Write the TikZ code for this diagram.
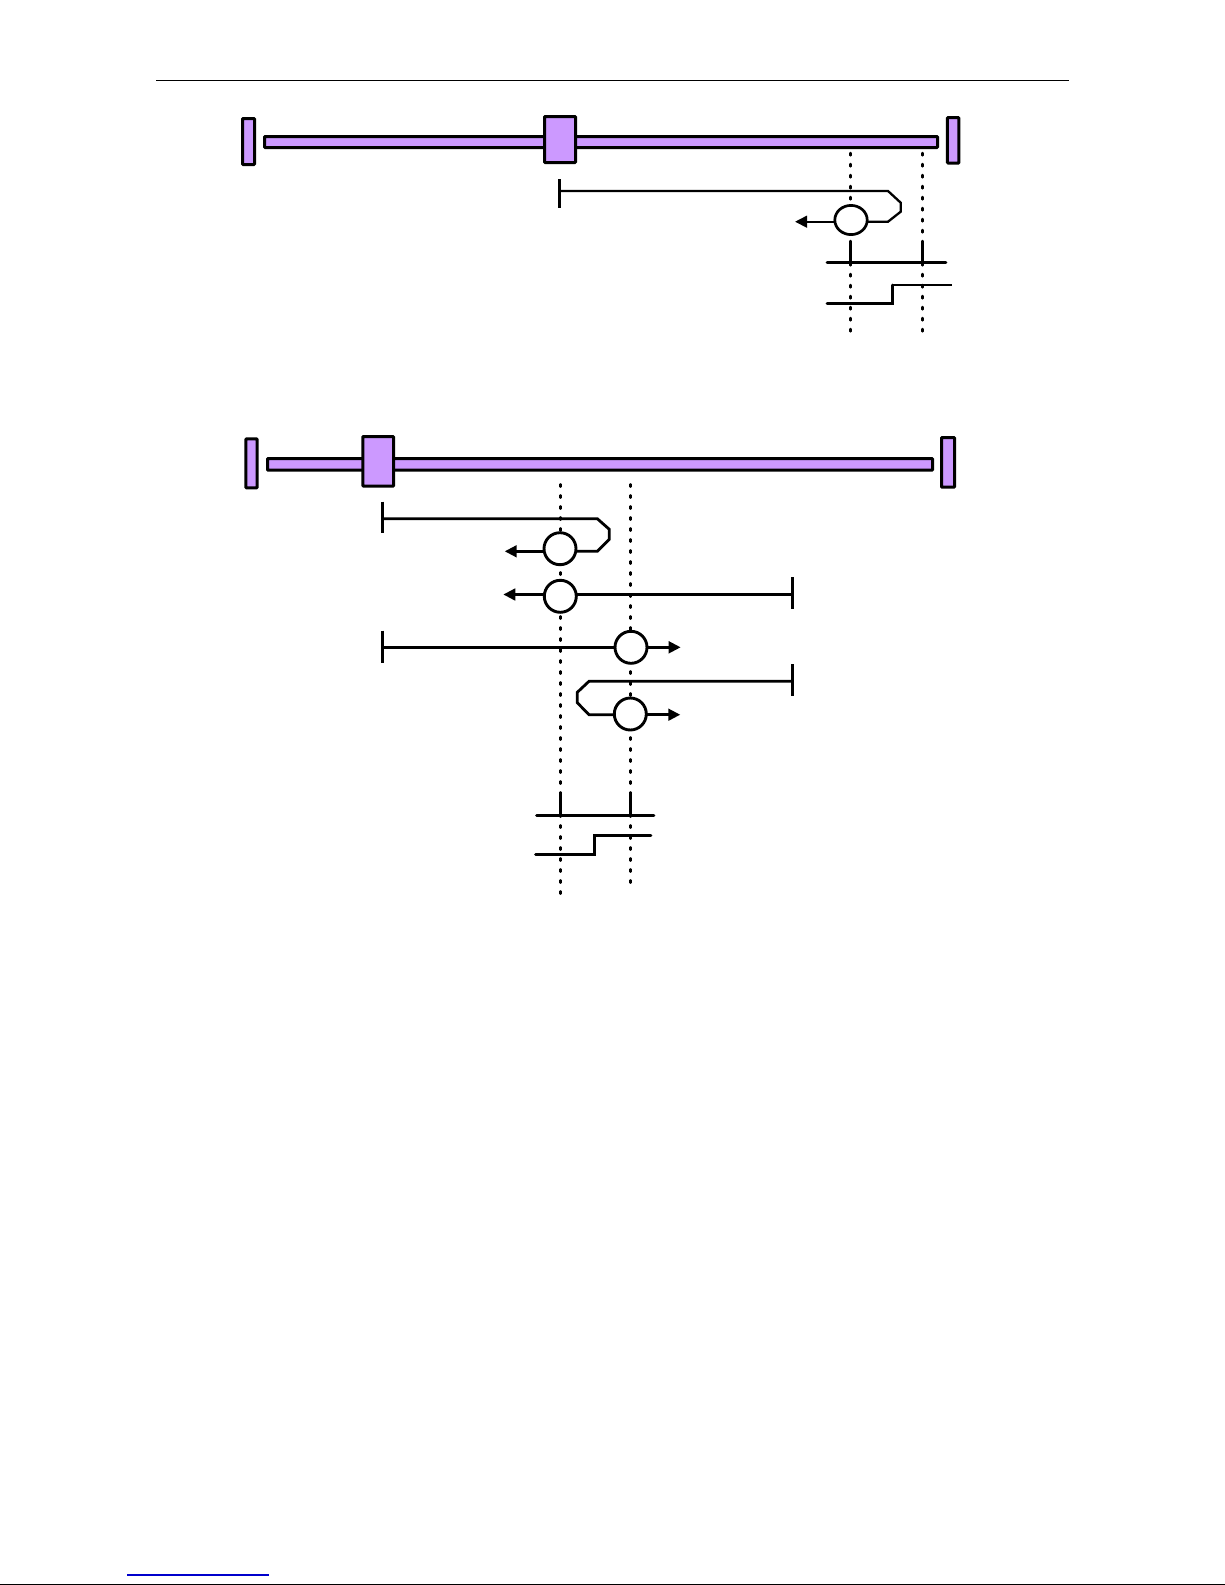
\documentclass[tikz,border=0pt]{standalone}
\usetikzlibrary{arrows.meta,shapes.geometric}
\definecolor{railfill}{HTML}{CC99FF}
\definecolor{linkblue}{HTML}{0000CC}
\tikzset{
  x=0.5pt,y=-0.5pt,
  sz/.style n args={2}{minimum width=#1*0.5pt,minimum height=#2*0.5pt},
  partbox/.style={draw=black,fill=railfill,line width=1.5pt,rounded corners=0.4pt,inner sep=0pt,outer sep=0pt},
  lamp/.style={draw=black,fill=white,circle,line width=1.45pt,minimum size=16pt,inner sep=0pt,outer sep=0pt},
  lampflat/.style={draw=black,fill=white,ellipse,line width=1.35pt,minimum width=16.2pt,minimum height=14.6pt,inner sep=0pt,outer sep=0pt},
  dots/.style={line width=1.25pt,line cap=round,dash pattern=on 1.2pt off 4.3pt},
  tick/.style={line width=1.3pt},
  run/.style={line width=1.15pt,line join=miter},
  runb/.style={line width=1.4pt,line join=miter},
  thinrun/.style={line width=0.8pt},
  go/.style={line width=1.2pt,-{Triangle[length=6pt,width=5.8pt]}},
  gob/.style={line width=1.4pt,-{Triangle[length=6pt,width=5.8pt]}},
}
\begin{document}
\begin{tikzpicture}
\useasboundingbox (0,0) rectangle (1225,1585);
% page rules
\coordinate (ruleA) at (156,80.3); \coordinate (ruleB) at (1069,80.3);
\draw[line width=0.65pt] (ruleA) -- (ruleB);
\coordinate (footA) at (0,1584.3); \coordinate (footB) at (1225,1584.3);
\draw[line width=0.65pt] (footA) -- (footB);
\coordinate (linkA) at (127,1575); \coordinate (linkB) at (269,1575);
\draw[line width=0.65pt,linkblue] (linkA) -- (linkB);

% ===== upper panel =====
\coordinate (uD1a) at (850.3,153); \coordinate (uD1b) at (850.3,334);
\coordinate (uD2a) at (922.3,153); \coordinate (uD2b) at (922.3,334);
\draw[dots] (uD1a) -- (uD1b);
\draw[dots] (uD2a) -- (uD2b);
\node[partbox,sz={12}{46}] (uStopL) at (248.5,141.5) {};
\node[partbox,sz={673}{11}] (uRail) at (601,142) {};
\node[partbox,sz={31}{46}] (uCar) at (560,139.5) {};
\node[partbox,sz={11.5}{45.5}] (uStopR) at (953.2,140.3) {};
\coordinate (uTa) at (559.3,179); \coordinate (uTb) at (559.3,208);
\draw[tick] (uTa) -- (uTb);
\node[lampflat] (uLamp) at (851,220) {};
\coordinate (uS) at (559.3,191);
\coordinate (uL1) at (888,191); \coordinate (uL2) at (900.7,202.7);
\coordinate (uL3) at (900.7,211.7); \coordinate (uL4) at (888,221.7);
\draw[run] (uS) -- (uL1) -- (uL2) -- (uL3) -- (uL4) -- (uLamp.east |- uL4);
\coordinate (uTip) at (795,221.7);
\draw[go] (uLamp.west |- uL4) -- (uTip);
% switch signals
\coordinate (uK1) at (850.3,241.7); \coordinate (uK1b) at (850.3,262.3);
\coordinate (uK2) at (922.3,241.7); \coordinate (uK2b) at (922.3,262.3);
\draw[tick] (uK1) -- (uK1b);
\draw[tick] (uK2) -- (uK2b);
\coordinate (uH1) at (827,262.3); \coordinate (uH2) at (946,262.3);
\draw[tick,line cap=round] (uH1) -- (uH2);
\coordinate (uP1) at (827,303.3); \coordinate (uP2) at (892.7,303.3);
\coordinate (uP3) at (892.7,285); \coordinate (uP4) at (952.3,285);
\draw[tick,line cap=round] (uP1) -- (uP2) -- (uP3);
\draw[thinrun] (uP3) -- (uP4);

% ===== lower panel =====
\coordinate (lD1a) at (560.3,484.3); \coordinate (lD1b) at (560.3,895);
\coordinate (lD2a) at (630.3,484.3); \coordinate (lD2b) at (630.3,883.3);
\draw[dots] (lD1a) -- (lD1b);
\draw[dots] (lD2a) -- (lD2b);
\node[partbox,sz={11.4}{49}] (lStopL) at (251.5,463.3) {};
\node[partbox,sz={665}{11.7}] (lRail) at (600,464.35) {};
\node[partbox,sz={30.7}{49.7}] (lCar) at (378.15,461.35) {};
\node[partbox,sz={13}{49.7}] (lStopR) at (948,462.35) {};
% run 1
\node[lamp] (lLampA) at (560,548.7) {};
\coordinate (aTa) at (382.3,501.7); \coordinate (aTb) at (382.3,533.3);
\draw[tick] (aTa) -- (aTb);
\coordinate (aS) at (382.3,518.7);
\coordinate (aL1) at (597.3,518.7); \coordinate (aL2) at (609.3,529.3);
\coordinate (aL3) at (609.3,539.3); \coordinate (aL4) at (597.3,551.3);
\draw[runb] (aS) -- (aL1) -- (aL2) -- (aL3) -- (aL4) -- (lLampA.east |- aL4);
\coordinate (aTip) at (504.7,551.3);
\draw[gob] (lLampA.west |- aL4) -- (aTip);
% run 2
\node[lamp] (lLampB) at (560.3,596.3) {};
\coordinate (bTa) at (792.3,577.3); \coordinate (bTb) at (792.3,609.3);
\draw[tick] (bTa) -- (bTb);
\coordinate (bS) at (792.3,594.5); \coordinate (bTip) at (503.3,594.5);
\draw[runb] (bS) -- (lLampB.east |- bS);
\draw[gob] (lLampB.west |- bS) -- (bTip);
% run 3
\node[lamp] (lLampC) at (631,647.3) {};
\coordinate (cTa) at (382.3,630.7); \coordinate (cTb) at (382.3,662.7);
\draw[tick] (cTa) -- (cTb);
\coordinate (cS) at (382.3,647.3); \coordinate (cTip) at (680.7,647.3);
\draw[runb] (cS) -- (lLampC.west);
\draw[gob] (lLampC.east) -- (cTip);
% run 4
\node[lamp] (lLampD) at (630.3,714) {};
\coordinate (dTa) at (792.7,664.3); \coordinate (dTb) at (792.7,696);
\draw[tick] (dTa) -- (dTb);
\coordinate (dS) at (792.7,681.3);
\coordinate (dL1) at (589,681.3); \coordinate (dL2) at (577.3,692.3);
\coordinate (dL3) at (577.3,702.7); \coordinate (dL4) at (589,714.7);
\draw[runb] (dS) -- (dL1) -- (dL2) -- (dL3) -- (dL4) -- (lLampD.west |- dL4);
\coordinate (dTip) at (680.3,714.7);
\draw[gob] (lLampD.east |- dL4) -- (dTip);
% switch signals
\coordinate (lK1) at (560.3,794.3); \coordinate (lK1b) at (560.3,815);
\coordinate (lK2) at (630.3,794.3); \coordinate (lK2b) at (630.3,815);
\draw[tick] (lK1) -- (lK1b);
\draw[tick] (lK2) -- (lK2b);
\coordinate (lH1) at (536.5,815.3); \coordinate (lH2) at (654,815.3);
\draw[runb,line cap=round] (lH1) -- (lH2);
\coordinate (lP1) at (535.5,854.3); \coordinate (lP2) at (594.7,854.3);
\coordinate (lP3) at (594.7,835.3); \coordinate (lP4) at (651,835.3);
\draw[tick,line cap=round] (lP1) -- (lP2) -- (lP3) -- (lP4);
\end{tikzpicture}
\end{document}
